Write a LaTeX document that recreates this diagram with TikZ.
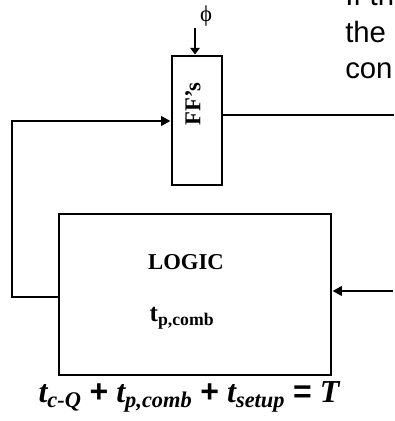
\documentclass[tikz,border=0pt]{standalone}
\usepackage{fontspec}
\setmainfont{Liberation Serif}
\newfontfamily\slidefont{Liberation Sans}
\usetikzlibrary{arrows.meta}
\tikzset{
  blk/.style={draw, rectangle, line width=2.2pt, inner sep=0pt},
  lbl/.style={font=\fontsize{17}{19}\selectfont\bfseries, inner sep=0pt},
  slide/.style={font=\slidefont\fontsize{22}{27}\selectfont, inner sep=0pt, anchor=base west},
  arr/.style={-{Triangle[length=7pt, width=7pt]}, line width=2pt},
  clkarr/.style={-{Triangle[length=5pt, width=7pt]}, line width=1.3pt},
  wire/.style={line width=2pt},
}

\begin{document}
\begin{tikzpicture}[x=0.75pt, y=-0.75pt]
\useasboundingbox (0,0) rectangle (394,421);

% FF block
\node[blk, minimum width=37.5pt, minimum height=96.75pt] (ff) at (197,120.5) {};
\node[lbl, rotate=90] (fflbl) at (193,104) {FF’s};
\node[inner sep=0pt, font=\fontsize{17}{19}\selectfont] (phi) at (206,16) {ϕ};

% logic block
\node[blk, minimum width=204pt, minimum height=120.75pt] (logic) at (195,294.5) {};
\node[lbl] (logiclbl) at (186,262) {LOGIC};
\node[lbl, font=\fontsize{19}{21}\selectfont\bfseries] (tcomb) at (182,318) {t\textsubscript{p,comb}};

% timing equation
\node[inner sep=0pt, font=\fontsize{24}{28}\selectfont\bfseries\itshape] (eqn) at (189,397)
  {t\textsubscript{c-Q} {\slidefont\upshape +} t\textsubscript{p,comb} {\slidefont\upshape +} t\textsubscript{setup} {\slidefont\upshape =} T};

% slide text behind
\node[slide] (txta) at (345,5) {If th};
\node[slide] (txtb) at (345,42) {the};
\node[slide] (txtc) at (345,78) {con};

% Arrows
\coordinate (clk) at (195,28);
\coordinate (qout) at (394,115);
\coordinate (din) at (393,291);
\coordinate (fbl) at (12,297);
\coordinate (fbu) at (12,121);
\draw[clkarr] (clk) -- (clk |- ff.north);
\draw[wire] (qout -| ff.east) -- (qout);
\draw[arr] (din) -- (din -| logic.east);
\draw[arr] (fbl -| logic.west) -- (fbl) -- (fbu) -- (ff.west |- fbu);

\end{tikzpicture}
\end{document}
